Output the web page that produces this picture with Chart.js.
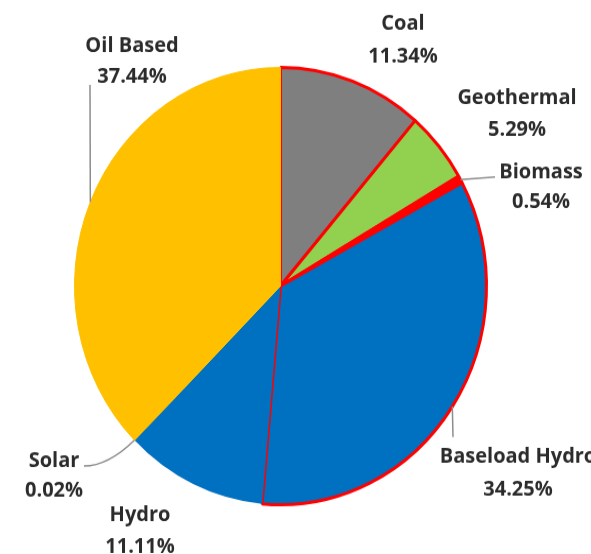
<!DOCTYPE html>
<html><head><meta charset="utf-8">
<script src="https://cdn.jsdelivr.net/npm/chart.js@4"></script>
<style>
html,body{margin:0;padding:0;background:#fff;overflow:hidden;width:591px;height:554px;}
#wrap{width:591px;height:522px;transform:scaleY(1.061303);transform-origin:0 0;}
</style></head><body>
<div id="wrap"><canvas id="c" width="591" height="522"></canvas></div>
<script>
const categories = ['Coal','Geothermal','Biomass','Baseload Hydro','Hydro','Solar','Oil Based'];
const shares = [11.34, 5.29, 0.54, 34.25, 11.11, 0.02, 37.44];
const shareLabels = ['11.34%','5.29%','0.54%','34.25%','11.11%','0.02%','37.44%'];

const fills = ['#7f7f7f','#92d050','#ff0000','#0070c0','#0070c0','#ffc000','#ffc000'];
const borders = ['#ff0000','#ff0000','#ff0000','#ff0000','#0070c0','#ffc000','#ffc000'];
const borderWidths = [3,3,3,3,0,1,1];

const S = 554/522; // vertical stretch of the reference
// label placement in reference pixels (centres of the two text lines) and leader waypoints
const labelLayout = [
  {x:403, y1:22, y2:55},
  {x:517, y1:96, y2:128},
  {x:541, y1:171, y2:201, leader:[[495,177]]},
  {x:518, y1:455, y2:488, leader:[[453,437]]},
  {x:140, y1:514, y2:545},
  {x:54,  y1:459, y2:489, curve:[[108,466],[84,466]]},
  {x:132, y1:44,  y2:75,  leader:[[90,85]]}
];

const labelPlugin = {
  id:'pieLabels',
  afterDatasetsDraw(chart){
    const ctx = chart.ctx;
    const meta = chart.getDatasetMeta(0);
    ctx.save();
    ctx.strokeStyle = '#8c8c8c';
    ctx.lineWidth = 1.5;
    labelLayout.forEach((L,i)=>{
      if(!L.leader && !L.curve) return;
      const arc = meta.data[i];
      const a = (arc.startAngle + arc.endAngle)/2;
      const sx = arc.x + Math.cos(a)*arc.outerRadius;
      const sy = arc.y + Math.sin(a)*arc.outerRadius;
      ctx.beginPath();
      ctx.moveTo(sx, sy);
      if(L.leader){
        L.leader.forEach(p=>ctx.lineTo(p[0], p[1]/S));
      } else {
        ctx.quadraticCurveTo(L.curve[0][0], L.curve[0][1]/S, L.curve[1][0], L.curve[1][1]/S);
      }
      ctx.stroke();
    });
    ctx.fillStyle = '#2b2b2b';
    ctx.font = 'bold 20px "Open Sans"';
    ctx.textAlign = 'center';
    ctx.textBaseline = 'alphabetic';
    labelLayout.forEach((L,i)=>{
      ctx.fillText(categories[i], L.x, L.y1/S + 7.1);
      ctx.fillText(shareLabels[i], L.x, L.y2/S + 7.1);
    });
    ctx.restore();
  }
};

new Chart(document.getElementById('c'), {
  type:'pie',
  data:{
    labels: categories,
    datasets:[{
      data: shares,
      backgroundColor: fills,
      borderColor: borders,
      borderWidth: borderWidths,
      borderAlign:'center'
    }]
  },
  options:{
    responsive:false,
    animation:false,
    layout:{padding:{top:62,bottom:45,left:73,right:103}},
    plugins:{legend:{display:false},tooltip:{enabled:false}}
  },
  plugins:[labelPlugin]
});
</script>
</body></html>
